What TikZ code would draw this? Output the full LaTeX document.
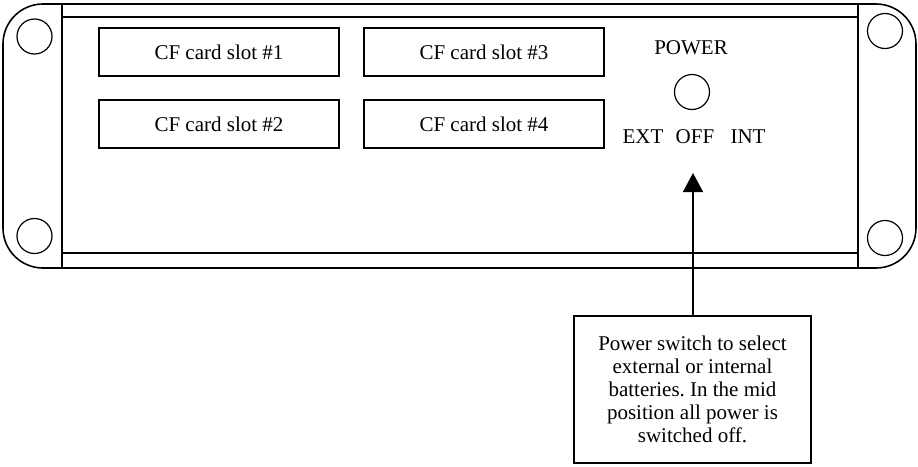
\documentclass[tikz,border=0pt]{standalone}
\usepackage{fontspec}
\setmainfont{Liberation Serif}
\usetikzlibrary{arrows.meta}
\frenchspacing
\begin{document}
\begin{tikzpicture}[x=1pt,y=-1pt,line width=1.5pt,
  slotbox/.style={draw,minimum width=240pt,minimum height=48pt,inner sep=0pt,font=\fontsize{21}{25}\selectfont},
  hole/.style={draw,circle,minimum size=35pt,inner sep=0pt,line width=1.2pt},
  lbl/.style={font=\fontsize{21}{25}\selectfont,inner sep=0pt},
  callout/.style={draw,minimum width=237pt,minimum height=147pt,inner sep=0pt,align=center,font=\fontsize{21}{23}\selectfont}]
\useasboundingbox (0,0) rectangle (918,466);
% outer panel
\draw[line width=1.6pt,rounded corners=40pt] (3,4) -- (916,4) -- (916,268) -- (3,268) -- cycle;
\draw (62,4) -- (62,268);
\draw (858,4) -- (858,268);
\draw (62,17) -- (858,17);
\draw (62,253) -- (858,253);
% mounting holes
\node[hole] (h1) at (34.5,36.5) {};
\node[hole] (h2) at (34.5,236) {};
\node[hole] (h3) at (885,31) {};
\node[hole] (h4) at (885,238) {};
% slots
\node[slotbox] (s1) at (219,52) {CF card slot \#1};
\node[slotbox] (s3) at (484,52) {CF card slot \#3};
\node[slotbox] (s2) at (219,124) {CF card slot \#2};
\node[slotbox] (s4) at (484,124) {CF card slot \#4};
% power switch
\node[lbl] (pw) at (691,48) {POWER};
\node[hole] (sw) at (692,92) {};
\node[lbl] (ext) at (643,137) {EXT};
\node[lbl] (off) at (695,137) {OFF};
\node[lbl] (int) at (748,137) {INT};
% callout
\node[callout] (c) at (692.5,389.5) {Power switch to select\\external or internal\\batteries. In the mid\\position all power is\\switched off.};
\coordinate (tip) at (693,173);
\draw[-{Triangle[length=19pt,width=20pt]}] (c.north -| tip) -- (tip);
\end{tikzpicture}
\end{document}
